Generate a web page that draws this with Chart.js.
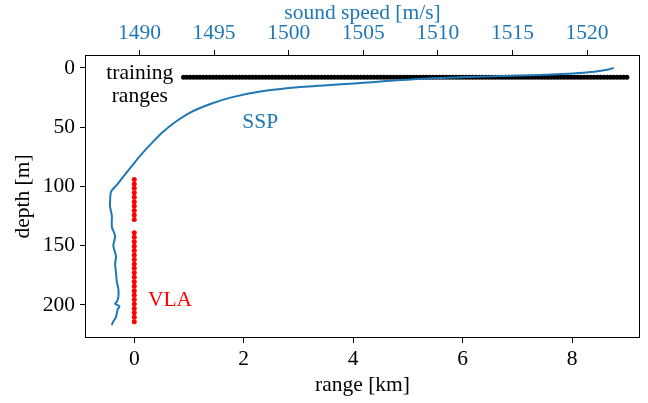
<!DOCTYPE html>
<html>
<head>
<meta charset="utf-8">
<script src="https://cdn.jsdelivr.net/npm/chart.js@4.4.1/dist/chart.umd.min.js"></script>
<style>
  html, body { margin: 0; padding: 0; background: #fff; }
  #wrap { width: 648px; height: 403px; }
</style>
</head>
<body>
<div id="wrap"><canvas id="ssp-chart" width="648" height="403"></canvas></div>
<script>
// training source ranges [km], all at one depth
const trainingRanges = [
  0.9, 0.96, 1.02, 1.08, 1.14, 1.2, 1.26, 1.32, 1.38, 1.44, 1.5, 1.56, 1.62, 1.68, 1.74,
  1.8, 1.86, 1.92, 1.98, 2.04, 2.1, 2.16, 2.22, 2.28, 2.34, 2.4, 2.46, 2.52, 2.58, 2.64,
  2.7, 2.76, 2.82, 2.88, 2.94, 3, 3.06, 3.12, 3.18, 3.24, 3.3, 3.36, 3.42, 3.48, 3.54,
  3.6, 3.66, 3.72, 3.78, 3.84, 3.9, 3.96, 4.02, 4.08, 4.14, 4.2, 4.26, 4.32, 4.38, 4.44,
  4.5, 4.56, 4.62, 4.68, 4.74, 4.8, 4.86, 4.92, 4.98, 5.04, 5.1, 5.16, 5.22, 5.28, 5.34,
  5.4, 5.46, 5.52, 5.58, 5.64, 5.7, 5.76, 5.82, 5.88, 5.94, 6, 6.06, 6.12, 6.18, 6.24,
  6.3, 6.36, 6.42, 6.48, 6.54, 6.6, 6.66, 6.72, 6.78, 6.84, 6.9, 6.96, 7.02, 7.08, 7.14,
  7.2, 7.26, 7.32, 7.38, 7.44, 7.5, 7.56, 7.62, 7.68, 7.74, 7.8, 7.86, 7.92, 7.98, 8.04,
  8.1, 8.16, 8.22, 8.28, 8.34, 8.4, 8.46, 8.52, 8.58, 8.64, 8.7, 8.76, 8.82, 8.88, 8.94,
  9
]
const trainingDepth = 8

// vertical line array element depths [m], at range 0
const vlaRange = 0
const vlaDepths = [
  94.1, 97.9, 101.6, 105.4, 109.1, 112.9, 116.6, 120.4, 124.1, 127.9,
  139.1, 142.9, 146.6, 150.4, 154.1, 157.9, 161.6, 165.4, 169.1, 172.9,
  176.6, 180.4, 184.1, 187.9, 191.6, 195.4, 199.1, 202.9, 206.6, 210.4, 214.1
]

// sound speed profile
const sspDepth = [
  0, 1.4, 3.3, 4.5, 5.2, 6.2, 7.1, 9, 12.7, 16.2, 20, 25.1, 30.5, 37.7,
  45.7, 54.6, 63.9, 73.2, 82.5, 90.9, 98.5, 104.4,
  110, 117, 125, 134, 142, 150, 159, 165, 173, 180,
  187, 193, 197, 199, 201, 204, 210, 215, 217
]
const sspSpeed = [
  1521.8, 1521.43, 1520.49, 1519.28, 1518.27, 1516.26, 1513.77, 1509.3, 1504.8, 1500.8, 1498.1, 1496.1, 1494.75, 1493.4,
  1492.4, 1491.53, 1490.79, 1490.11, 1489.51, 1488.97, 1488.5, 1488.1,
  1488.04, 1488.03, 1488.15, 1488.15, 1488.37, 1488.25, 1488.43, 1488.37, 1488.43, 1488.48,
  1488.59, 1488.59, 1488.5, 1488.37, 1488.66, 1488.53, 1488.43, 1488.2, 1488.15
]

const rangeTicks = [0, 2, 4, 6, 8]
const depthTicks = [0, 50, 100, 150, 200]
const speedTicks = [1490, 1495, 1500, 1505, 1510, 1515, 1520]

const BLUE = '#1f77b4'
const FAMILY = '"Liberation Serif", "DejaVu Serif", serif'
const SIZE = 21.5

// text notes placed in data coordinates
const notes = [
  { text: 'training', x: 0.1, y: 9, xAxis: 'x', color: '#000', align: 'center' },
  { text: 'ranges', x: 0.1, y: 28.4, xAxis: 'x', color: '#000', align: 'center' },
  { text: 'SSP', x: 1498.1, y: 50.4, xAxis: 'x2', color: BLUE, align: 'center' },
  { text: 'VLA', x: 0.25, y: 200.5, xAxis: 'x', color: 'red', align: 'left' }
]

function fixedTicks(values) {
  return (scale) => {
    scale.ticks = values.map((v) => ({ value: v }))
  }
}

const plainLabel = (v) => String(v)

const frameAndNotes = {
  id: 'frameAndNotes',
  afterDatasetsDraw(chart) {
    const { ctx, chartArea: a, scales } = chart
    ctx.save()
    ctx.font = `${SIZE}px ${FAMILY}`
    ctx.textBaseline = 'alphabetic'
    notes.forEach((n) => {
      ctx.fillStyle = n.color
      ctx.textAlign = n.align
      ctx.fillText(n.text, scales[n.xAxis].getPixelForValue(n.x), scales.y.getPixelForValue(n.y))
    })
    ctx.strokeStyle = '#000'
    ctx.lineWidth = 1
    ctx.strokeRect(Math.round(a.left) + 0.5, Math.round(a.top) + 0.5,
      Math.round(a.right) - Math.round(a.left) - 1, Math.round(a.bottom) - Math.round(a.top) - 1)
    ctx.restore()
  }
}

const tickGrid = { drawOnChartArea: false, drawTicks: true, tickLength: 5, color: '#000', lineWidth: 1 }

new Chart(document.getElementById('ssp-chart'), {
  type: 'scatter',
  data: {
    datasets: [
      {
        label: 'SSP',
        data: sspDepth.map((d, i) => ({ x: sspSpeed[i], y: d })),
        xAxisID: 'x2',
        yAxisID: 'y',
        showLine: true,
        borderColor: BLUE,
        borderWidth: 2,
        pointRadius: 0,
        tension: 0.3,
        order: 0
      },
      {
        label: 'training ranges',
        data: trainingRanges.map((r) => ({ x: r, y: trainingDepth })),
        xAxisID: 'x',
        yAxisID: 'y',
        backgroundColor: '#000',
        borderWidth: 0,
        pointRadius: 2.5,
        order: 1
      },
      {
        label: 'VLA',
        data: vlaDepths.map((d) => ({ x: vlaRange, y: d })),
        xAxisID: 'x',
        yAxisID: 'y',
        backgroundColor: 'red',
        borderWidth: 0,
        pointRadius: 2.5,
        order: 2
      }
    ]
  },
  options: {
    responsive: false,
    animation: false,
    devicePixelRatio: 1,
    layout: { padding: { left: 0, right: 8, top: 0, bottom: 0 } },
    plugins: { legend: { display: false }, tooltip: { enabled: false } },
    scales: {
      x: {
        type: 'linear',
        position: 'bottom',
        min: -0.9,
        max: 9.24,
        afterBuildTicks: fixedTicks(rangeTicks),
        afterFit: (s) => { s.height = 65 },
        grid: tickGrid,
        border: { display: false },
        ticks: { color: '#000', padding: 3, maxRotation: 0, callback: plainLabel, font: { family: FAMILY, size: SIZE } },
        title: { display: true, text: 'range [km]', color: '#000', padding: { top: 0, bottom: 5 }, font: { family: FAMILY, size: SIZE } }
      },
      x2: {
        type: 'linear',
        position: 'top',
        min: 1486.35,
        max: 1523.55,
        afterBuildTicks: fixedTicks(speedTicks),
        afterFit: (s) => { s.height = 55 },
        grid: tickGrid,
        border: { display: false },
        ticks: { color: BLUE, padding: 4, maxRotation: 0, callback: plainLabel, font: { family: FAMILY, size: SIZE } },
        title: { display: true, text: 'sound speed [m/s]', color: BLUE, padding: { top: 0, bottom: 0 }, font: { family: FAMILY, size: SIZE } }
      },
      y: {
        type: 'linear',
        position: 'left',
        reverse: true,
        min: -10.85,
        max: 227.85,
        afterBuildTicks: fixedTicks(depthTicks),
        afterFit: (s) => { s.width = 85 },
        grid: tickGrid,
        border: { display: false },
        ticks: { color: '#000', padding: 5, callback: plainLabel, font: { family: FAMILY, size: SIZE } },
        title: { display: true, text: 'depth [m]', color: '#000', padding: { top: 10, bottom: 0 }, font: { family: FAMILY, size: SIZE } }
      }
    }
  },
  plugins: [frameAndNotes]
})
</script>
</body>
</html>
